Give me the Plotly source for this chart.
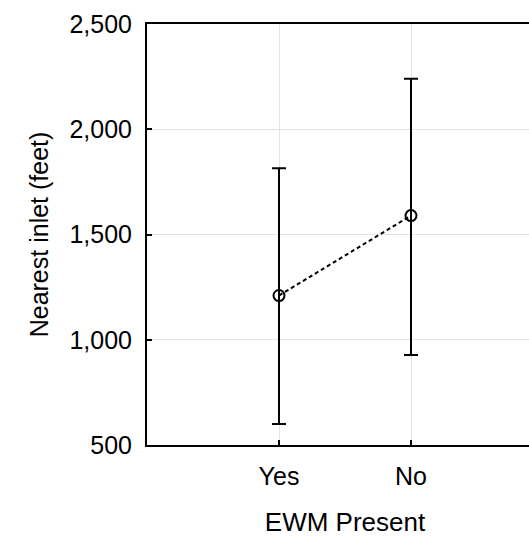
import plotly.graph_objects as go

categories = ["Yes", "No"]
means = [1210, 1590]
upper = [1815, 2240]
lower = [600, 928]
y_ticks = [500, 1000, 1500, 2000, 2500]

err_plus = [u - m for u, m in zip(upper, means)]
err_minus = [m - l for m, l in zip(means, lower)]

FONT = "Liberation Sans, Arial, sans-serif"

fig = go.Figure()
fig.add_trace(go.Scatter(
    x=[0, 1], y=means,
    mode="lines+markers",
    line=dict(color="black", width=2, dash="4px,3px"),
    marker=dict(symbol="circle-open", size=11, color="black", line=dict(width=2)),
    error_y=dict(type="data", array=err_plus, arrayminus=err_minus,
                 color="black", thickness=2, width=7),
    showlegend=False,
))

fig.update_layout(
    width=543, height=537,
    margin=dict(l=147, r=0, t=24, b=92, pad=0),
    paper_bgcolor="white", plot_bgcolor="white",
    font=dict(family=FONT, size=25, color="black"),
)
fig.update_xaxes(
    range=[-1, 2],
    tickmode="array", tickvals=[0, 1], ticktext=categories,
    showline=True, linecolor="black", linewidth=2, mirror=True,
    ticks="inside", ticklen=5, tickcolor="black", tickwidth=2,
    showgrid=True, gridcolor="#e3e3e3", gridwidth=1,
    zeroline=False,
    ticklabelstandoff=8,
    title=dict(text="EWM Present", standoff=24, font=dict(size=26)),
)
fig.update_yaxes(
    range=[500, 2500],
    tickmode="array", tickvals=y_ticks, tickformat=",d",
    showline=True, linecolor="black", linewidth=2, mirror=False,
    ticks="inside", ticklen=5, tickcolor="black", tickwidth=2,
    showgrid=True, gridcolor="#e3e3e3", gridwidth=1,
    zeroline=False,
    ticklabelstandoff=8,
    title=dict(text="Nearest inlet (feet)", standoff=14, font=dict(size=25)),
)

fig.write_html(
    "out.html",
    config={"displayModeBar": False},
    post_script="document.body.style.margin='0';document.body.style.overflow='hidden';",
)
